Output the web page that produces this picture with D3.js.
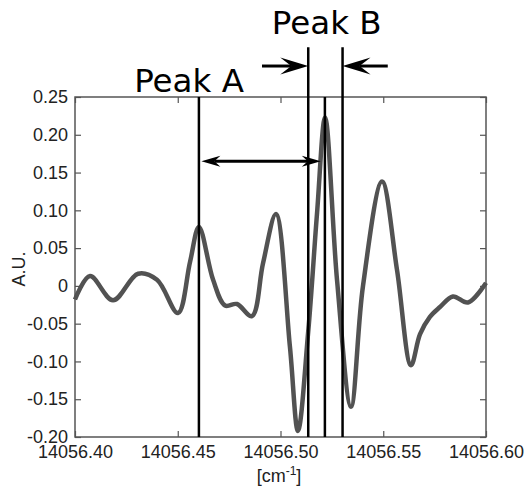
<!DOCTYPE html>
<html>
<head>
<meta charset="utf-8">
<script src="https://cdn.jsdelivr.net/npm/d3@7"></script>
<style>
  html, body { margin: 0; padding: 0; background: #fff; }
  .tick text { font-family: "Liberation Sans", Arial, sans-serif; font-size: 18px; fill: #222; }
  .tick line { stroke: #555; stroke-width: 1.2; }
</style>
</head>
<body>
<div id="chart"></div>
<script>
// setup dimensions
const margin = { top: 97, right: 42, bottom: 55, left: 75 };
const width = 528;
const height = 492;
const chartWidth = width - margin.left - margin.right;
const chartHeight = height - margin.top - margin.bottom;

// data
const waveX = [
  14056.4000, 14056.4073, 14056.4185, 14056.4307, 14056.4399, 14056.4501,
  14056.4560, 14056.4603, 14056.4672, 14056.4730, 14056.4788, 14056.4861,
  14056.4915, 14056.4978, 14056.5046, 14056.5085, 14056.5135, 14056.5178,
  14056.5217, 14056.5275, 14056.5343, 14056.5401, 14056.5494, 14056.5567,
  14056.5635, 14056.5679, 14056.5727, 14056.5776, 14056.5839, 14056.5912,
  14056.6000
];
const waveY = [
  -0.018, 0.013, -0.019, 0.016, 0.008, -0.036,
  0.032, 0.078, 0.008, -0.026, -0.024, -0.040,
  0.030, 0.095, -0.081, -0.192, -0.060, 0.097,
  0.223, 0.008, -0.160, -0.001, 0.138, 0.021,
  -0.105, -0.064, -0.041, -0.028, -0.014, -0.022,
  0.004
];

const xTicks = [14056.40, 14056.45, 14056.50, 14056.55, 14056.60];
const xTickLabels = ["14056.40", "14056.45", "14056.50", "14056.55", "14056.60"];
const yTicks = [0.25, 0.20, 0.15, 0.10, 0.05, 0, -0.05, -0.10, -0.15, -0.20];
const yTickLabels = ["0.25", "0.20", "0.15", "0.10", "0.05", "0", "-0.05", "-0.10", "-0.15", "-0.20"];

// marker lines: position, top value
const markerX = [14056.4603, 14056.5135, 14056.5216, 14056.5302];
const markerTop = [0.25, 0.316, 0.25, 0.316];

// arrows: [from, to, level]
const spanArrow = [14056.4603, 14056.5196, 0.165];
const leftArrow = [14056.4910, 14056.5135, 0.291];
const rightArrow = [14056.5522, 14056.5302, 0.291];

const peakLabels = ["Peak A", "Peak B"];
const peakLabelX = [14056.4555, 14056.5225];
const peakLabelY = [0.256, 0.333];

const svg = d3.select("#chart")
  .append("svg")
  .attr("width", width)
  .attr("height", height);

const g = svg.append("g")
  .attr("transform", `translate(${margin.left},${margin.top})`);

const x = d3.scaleLinear().domain([14056.40, 14056.60]).range([0, chartWidth]);
const y = d3.scaleLinear().domain([-0.20, 0.25]).range([chartHeight, 0]);

// axes with inward ticks
const fmtX = (d) => xTickLabels[xTicks.indexOf(d)];
const fmtY = (d) => yTickLabels[yTicks.indexOf(d)];

g.append("g")
  .attr("transform", `translate(0,${chartHeight})`)
  .call(d3.axisBottom(x).tickValues(xTicks).tickFormat(fmtX).tickSize(-6).tickPadding(8))
  .call((a) => a.select(".domain").remove());

g.append("g")
  .call(d3.axisTop(x).tickValues(xTicks).tickFormat("").tickSize(-6))
  .call((a) => a.select(".domain").remove());

g.append("g")
  .call(d3.axisLeft(y).tickValues(yTicks).tickFormat(fmtY).tickSize(-6).tickPadding(7))
  .call((a) => a.select(".domain").remove());

g.append("g")
  .attr("transform", `translate(${chartWidth},0)`)
  .call(d3.axisRight(y).tickValues(yTicks).tickFormat("").tickSize(-6))
  .call((a) => a.select(".domain").remove());

// frame
g.append("rect")
  .attr("width", chartWidth)
  .attr("height", chartHeight)
  .attr("fill", "none")
  .attr("stroke", "#555")
  .attr("stroke-width", 1.5);

// the wave
const pts = waveX.map((d, i) => [d, waveY[i]]);
const line = d3.line()
  .x((d) => x(d[0]))
  .y((d) => y(d[1]))
  .curve(d3.curveCatmullRom.alpha(0.5));

g.append("path")
  .datum(pts)
  .attr("fill", "none")
  .attr("stroke", "#525252")
  .attr("stroke-width", 4.5)
  .attr("stroke-linejoin", "round")
  .attr("d", line);

// marker lines
g.selectAll("line.marker")
  .data(markerX)
  .join("line")
  .attr("class", "marker")
  .attr("x1", (d) => x(d))
  .attr("x2", (d) => x(d))
  .attr("y1", (d, i) => y(markerTop[i]))
  .attr("y2", y(-0.20))
  .attr("stroke", "#000")
  .attr("stroke-width", 2.5);

// arrowhead path, tip at (tx, ty), pointing dir (+1 right, -1 left)
function headPath(tx, ty, dir, len, half, notch) {
  const bx = tx - dir * len;
  const nx = tx - dir * (len - notch);
  return `M${tx},${ty}L${bx},${ty - half}L${nx},${ty}L${bx},${ty + half}Z`;
}

function drawArrow(from, to, level, len, half, notch, both) {
  const x0 = x(from), x1 = x(to), yy = y(level);
  const dir = x1 > x0 ? 1 : -1;
  g.append("line")
    .attr("x1", both ? x0 + dir * (len - notch) : x0)
    .attr("x2", x1 - dir * (len - notch))
    .attr("y1", yy).attr("y2", yy)
    .attr("stroke", "#000")
    .attr("stroke-width", 3);
  g.append("path").attr("d", headPath(x1, yy, dir, len, half, notch)).attr("fill", "#000");
  if (both) {
    g.append("path").attr("d", headPath(x0, yy, -dir, len, half, notch)).attr("fill", "#000");
  }
}

drawArrow(spanArrow[0] + 0.0012, spanArrow[1], spanArrow[2], 19, 5.5, 6, true);
drawArrow(leftArrow[0], leftArrow[1], leftArrow[2], 28, 8.5, 11, false);
drawArrow(rightArrow[0], rightArrow[1], rightArrow[2], 28, 8.5, 11, false);

// peak labels
g.selectAll("text.peak")
  .data(peakLabels)
  .join("text")
  .attr("class", "peak")
  .attr("x", (d, i) => x(peakLabelX[i]))
  .attr("y", (d, i) => y(peakLabelY[i]))
  .attr("text-anchor", "middle")
  .attr("font-family", "DejaVu Sans, sans-serif")
  .attr("font-size", "32.5px")
  .attr("fill", "#000")
  .text((d) => d);

// axis titles
const xt = svg.append("text")
  .attr("x", 279)
  .attr("y", 482)
  .attr("text-anchor", "middle")
  .attr("font-family", "Liberation Sans, Arial, sans-serif")
  .attr("font-size", "18px")
  .attr("fill", "#222");
xt.append("tspan").text("[cm");
xt.append("tspan").attr("font-size", "12px").attr("dy", -7).text("-1");
xt.append("tspan").attr("dy", 7).text("]");

svg.append("text")
  .attr("transform", "translate(25,269) rotate(-90)")
  .attr("text-anchor", "middle")
  .attr("font-family", "Liberation Sans, Arial, sans-serif")
  .attr("font-size", "18px")
  .attr("fill", "#222")
  .text("A.U.");
</script>
</body>
</html>
